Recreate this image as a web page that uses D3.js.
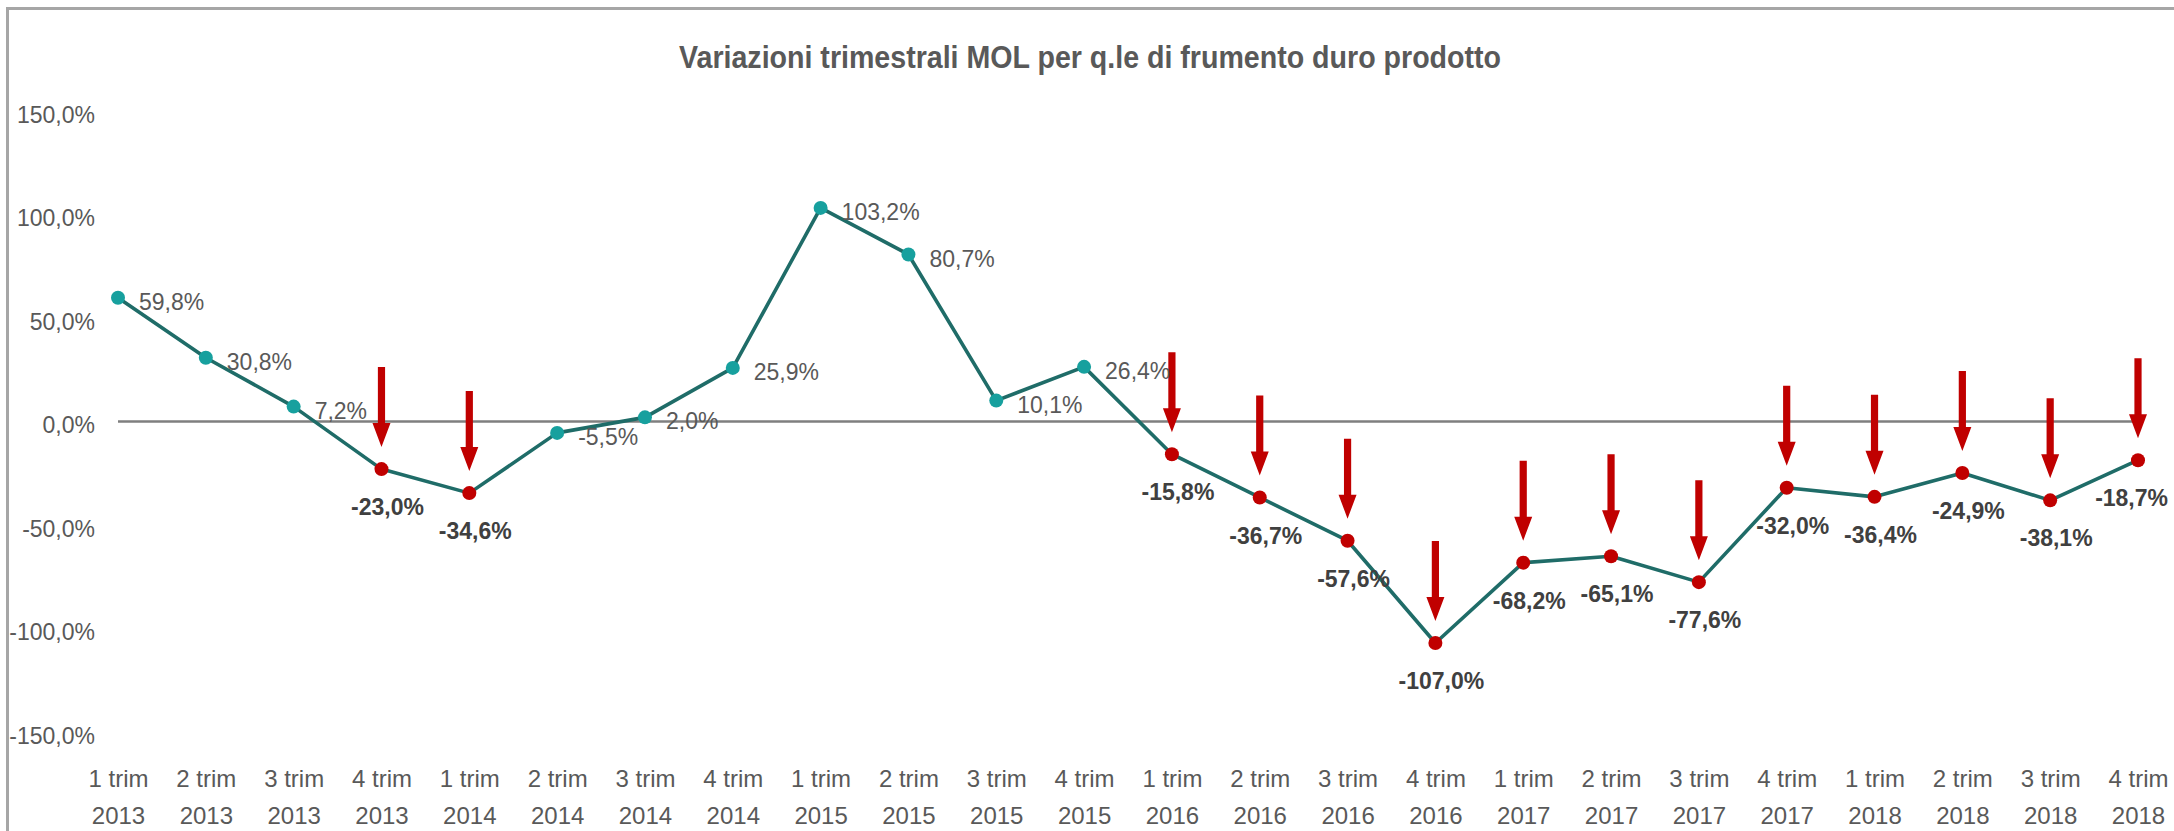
<!DOCTYPE html>
<html>
<head>
<meta charset="utf-8">
<script src="https://cdn.jsdelivr.net/npm/d3@7"></script>
<style>
  html, body { margin: 0; padding: 0; background: #fff; overflow: hidden; }
  text { font-family: "Liberation Sans", Arial, sans-serif; }
</style>
</head>
<body>
<div id="chart"></div>
<script>
// quarters (two-line tick labels)
var periods = ["1 trim","2 trim","3 trim","4 trim","1 trim","2 trim","3 trim","4 trim",
               "1 trim","2 trim","3 trim","4 trim","1 trim","2 trim","3 trim","4 trim",
               "1 trim","2 trim","3 trim","4 trim","1 trim","2 trim","3 trim","4 trim"];
var years = ["2013","2013","2013","2013","2014","2014","2014","2014",
             "2015","2015","2015","2015","2016","2016","2016","2016",
             "2017","2017","2017","2017","2018","2018","2018","2018"];

// variazione % MOL per q.le
var values = [59.8, 30.8, 7.2, -23.0, -34.6, -5.5, 2.0, 25.9,
              103.2, 80.7, 10.1, 26.4, -15.8, -36.7, -57.6, -107.0,
              -68.2, -65.1, -77.6, -32.0, -36.4, -24.9, -38.1, -18.7];

// quarters flagged with a red arrow
var flagged = [false, false, false, true, true, false, false, false,
               false, false, false, false, true, true, true, true,
               true, true, true, true, true, true, true, true];

var yTicks = [150, 100, 50, 0, -50, -100, -150];

var title = "Variazioni trimestrali MOL per q.le di frumento duro prodotto";

var width = 2174,
    height = 831;

var lineCol = "#1f6c68",
    tealCol = "#17a09e",
    redCol = "#c00000",
    textCol = "#595959";

var it = d3.formatLocale({decimal: ",", thousands: ".", grouping: [3], currency: ["", "€"], minus: "-"});
var fmt = it.format(".1f");
function pct(v) { return fmt(v) + "%"; }

var data = values.map(function(v, i) {
  return {key: i, value: v, period: periods[i], year: years[i], flag: flagged[i]};
});

var svg = d3.select("#chart").append("svg")
    .attr("width", width)
    .attr("height", height);

// chart frame (only top and left edges are inside the picture)
svg.append("rect")
    .attr("x", 7.5).attr("y", 8.5)
    .attr("width", width + 20).attr("height", height + 20)
    .attr("fill", "none")
    .attr("stroke", "#a6a6a6")
    .attr("stroke-width", 3);

var x = d3.scalePoint()
    .domain(data.map(function(d) { return d.key; }))
    .range([118, 2138]);

var y = d3.scaleLinear()
    .domain([-150, 150])
    .range([732, 111]);

svg.append("text")
    .attr("x", 1090).attr("y", 57)
    .attr("dy", "0.35em")
    .attr("text-anchor", "middle")
    .attr("font-size", 32)
    .attr("font-weight", "bold")
    .attr("fill", textCol)
    .attr("textLength", 822)
    .attr("lengthAdjust", "spacingAndGlyphs")
    .text(title);

// y axis
var yAxis = svg.append("g")
    .attr("transform", "translate(103,0)")
    .call(d3.axisLeft(y).tickValues(yTicks).tickSize(0).tickPadding(8).tickFormat(pct));
yAxis.select(".domain").remove();
yAxis.selectAll("text")
    .attr("y", 4)
    .attr("font-size", 23)
    .attr("font-family", null)
    .attr("fill", textCol);

// x axis, two lines per tick
var xAxis = svg.append("g")
    .attr("transform", "translate(0,760)")
    .call(d3.axisBottom(x).tickSize(0).tickFormat(""));
xAxis.select(".domain").remove();
xAxis.selectAll(".tick text").each(function(k) {
  var t = d3.select(this)
      .attr("y", null).attr("dy", null)
      .attr("font-size", 24)
      .attr("font-family", null)
      .attr("fill", textCol)
      .attr("text-anchor", "middle");
  t.append("tspan").attr("x", 0).attr("y", 27).text(data[k].period);
  t.append("tspan").attr("x", 0).attr("y", 64).text(data[k].year);
});

// zero line
svg.append("line")
    .attr("x1", x(0)).attr("x2", x(23))
    .attr("y1", y(0)).attr("y2", y(0))
    .attr("stroke", "#7f7f7f")
    .attr("stroke-width", 2.5);

// series line
var line = d3.line()
    .x(function(d) { return x(d.key); })
    .y(function(d) { return y(d.value); });

svg.append("path")
    .datum(data)
    .attr("d", line)
    .attr("fill", "none")
    .attr("stroke", lineCol)
    .attr("stroke-width", 3.6)
    .attr("stroke-linejoin", "round");

// markers
svg.selectAll("circle.pt")
    .data(data)
    .enter().append("circle")
    .attr("class", "pt")
    .attr("cx", function(d) { return x(d.key); })
    .attr("cy", function(d) { return y(d.value); })
    .attr("r", 7)
    .attr("fill", function(d) { return d.flag ? redCol : tealCol; });

// red arrows above flagged points
var arrowLen = 80, headLen = 24, headW = 9, shaftW = 3.6, gap = 22;
function arrowPath(d) {
  var cx = x(d.key),
      tip = y(d.value) - gap,
      p = d3.path();
  p.moveTo(cx - shaftW, tip - arrowLen);
  p.lineTo(cx + shaftW, tip - arrowLen);
  p.lineTo(cx + shaftW, tip - headLen);
  p.lineTo(cx + headW, tip - headLen);
  p.lineTo(cx, tip);
  p.lineTo(cx - headW, tip - headLen);
  p.lineTo(cx - shaftW, tip - headLen);
  p.closePath();
  return p.toString();
}

svg.selectAll("path.arrow")
    .data(data.filter(function(d) { return d.flag; }))
    .enter().append("path")
    .attr("class", "arrow")
    .attr("d", arrowPath)
    .attr("fill", redCol);

// data labels: right of teal points, below red ones
var labels = svg.selectAll("text.lbl")
    .data(data)
    .enter().append("text")
    .attr("class", "lbl")
    .attr("x", function(d) { return d.flag ? x(d.key) + 6 : x(d.key) + 21; })
    .attr("y", function(d) { return d.flag ? y(d.value) + 38 : y(d.value) + 4; })
    .attr("dy", "0.35em")
    .attr("text-anchor", function(d) { return d.flag ? "middle" : "start"; })
    .attr("font-size", 23)
    .attr("font-weight", function(d) { return d.flag ? "bold" : "normal"; })
    .attr("fill", function(d) { return d.flag ? "#404040" : textCol; })
    .text(function(d) { return pct(d.value); });

// keep the last label inside the frame
labels.each(function(d) {
  var w = this.getComputedTextLength(),
      cx = +d3.select(this).attr("x");
  if (d.flag && cx + w / 2 > width - 6) d3.select(this).attr("x", width - 6 - w / 2);
});
</script>
</body>
</html>
